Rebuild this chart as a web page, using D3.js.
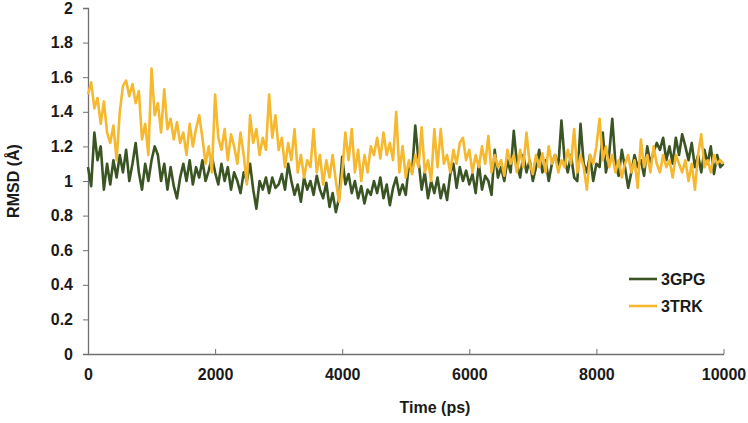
<!DOCTYPE html>
<html>
<head>
<meta charset="utf-8">
<script src="https://cdn.jsdelivr.net/npm/d3@7"></script>
<style>
  body { margin: 0; background: #fff; }
  svg { display: block; font-family: "Liberation Sans", Arial, sans-serif; }
</style>
</head>
<body>
<svg id="chart"></svg>
<script>
// sampling step of the trajectory (ps)
const timeStep = 50

// RMSD values, one every 50 ps from 0 to 10000
const rmsd3GPG = [
  1.08, 0.97, 1.28, 1.12, 1.20, 0.95, 1.10, 0.98, 1.12, 1.02,
  1.15, 1.05, 1.18, 1.00, 1.10, 1.22, 1.05, 0.95, 1.10, 1.00,
  1.12, 1.20, 1.15, 1.00, 1.10, 0.95, 1.08, 0.97, 0.90, 1.02,
  1.10, 1.00, 1.12, 0.98, 1.08, 1.02, 1.12, 1.00, 1.06, 1.14,
  1.05, 0.98, 1.10, 1.00, 1.08, 0.95, 1.05, 1.00, 0.93, 1.05,
  1.00, 1.10, 0.95, 0.84, 1.00, 0.95, 1.02, 0.93, 1.02, 0.96,
  0.98, 1.04, 0.95, 1.10, 1.00, 0.92, 0.98, 0.88, 1.02, 0.95,
  1.00, 0.92, 1.03, 0.95, 0.90, 0.99, 0.85, 0.93, 0.82, 0.90,
  1.14, 0.98, 1.04, 0.93, 1.00, 0.90, 0.97, 0.87, 0.95, 0.92,
  1.00, 0.93, 1.02, 0.90, 0.98, 0.86, 0.96, 1.02, 0.92, 0.98,
  0.92, 1.10, 1.05, 1.32, 1.12, 0.95, 1.05, 0.90, 1.00, 0.93,
  1.02, 0.90, 0.98, 0.89, 1.04, 1.10, 0.96, 1.08, 1.00, 1.06,
  0.98, 1.04, 0.93, 1.10, 0.95, 1.03, 1.00, 0.92, 1.18, 1.02,
  1.08, 1.00, 1.12, 1.05, 1.29, 1.10, 1.02, 1.15, 1.05, 1.12,
  1.00, 1.08, 1.18, 1.05, 1.12, 1.00, 1.10, 1.15, 1.08, 1.35,
  1.12, 1.05, 1.15, 1.02, 1.00, 1.33, 1.10, 1.05, 1.15, 1.00,
  1.10, 1.08, 1.28, 1.05, 1.15, 1.36, 1.10, 1.03, 1.18, 1.08,
  0.96, 1.05, 1.15, 1.08, 1.12, 1.03, 1.20, 1.10, 1.17, 1.22,
  1.18, 1.25, 1.12, 1.20, 1.10, 1.25, 1.15, 1.27, 1.20, 1.12,
  1.22, 1.08, 1.15, 1.05, 1.18, 1.10, 1.20, 1.04, 1.15, 1.08, 1.10
]

const rmsd3TRK = [
  1.50, 1.57, 1.42, 1.48, 1.33, 1.46, 1.28, 1.22, 1.32, 1.12,
  1.40, 1.55, 1.58, 1.49, 1.56, 1.45, 1.52, 1.24, 1.33, 1.15,
  1.65, 1.38, 1.45, 1.28, 1.53, 1.30, 1.36, 1.24, 1.34, 1.22,
  1.28, 1.15, 1.33, 1.20, 1.30, 1.38, 1.25, 1.10, 1.20, 1.05,
  1.50, 1.25, 1.18, 1.30, 1.12, 1.27, 1.20, 1.10, 1.28, 1.15,
  0.98, 1.38, 1.22, 1.30, 1.15, 1.25, 1.18, 1.50, 1.25, 1.38,
  1.18, 1.25, 1.08, 1.22, 1.12, 1.30, 1.05, 1.15, 1.02, 1.12,
  1.08, 1.30, 1.05, 1.15, 0.98, 1.12, 1.02, 1.15, 1.00, 0.88,
  1.05, 1.28, 1.12, 1.30, 1.05, 1.18, 1.00, 1.15, 1.05, 1.20,
  1.15, 1.25, 1.13, 1.28, 1.15, 1.22, 1.12, 1.40, 1.05, 1.20,
  1.02, 1.12, 1.04, 1.15, 1.08, 1.31, 1.05, 1.12, 1.00, 1.30,
  1.08, 1.30, 1.10, 1.15, 1.05, 1.18, 1.10, 1.22, 1.25, 1.12,
  1.18, 1.05, 1.15, 1.08, 1.20, 1.10, 1.26, 1.05, 1.15, 1.08,
  1.12, 1.03, 1.18, 1.10, 1.15, 1.05, 1.18, 1.08, 1.28, 1.10,
  1.04, 1.15, 1.08, 1.16, 1.05, 1.20, 1.10, 1.15, 1.05, 1.12,
  1.08, 1.18, 1.10, 1.30, 1.05, 1.15, 1.08, 0.95, 1.15, 1.10,
  1.20, 1.36, 1.12, 1.20, 1.08, 1.15, 1.05, 1.12, 1.02, 1.10,
  1.15, 1.05, 1.12, 0.96, 1.24, 1.08, 1.15, 1.05, 1.20, 1.10,
  1.05, 1.15, 1.08, 1.12, 1.02, 1.15, 1.10, 1.05, 1.12, 1.00,
  1.10, 0.95, 1.15, 1.27, 1.08, 1.12, 1.05, 1.15, 1.10, 1.12, 1.10
]

const seriesNames = ['3GPG', '3TRK']
const seriesColours = ['#3a5423', '#f5b82e']
const xTicks = [0, 2000, 4000, 6000, 8000, 10000]
const yTicks = [0, 0.2, 0.4, 0.6, 0.8, 1, 1.2, 1.4, 1.6, 1.8, 2]

const width = 748
const height = 423
const margin = { top: 8, right: 24.5, bottom: 69, left: 88 }
const axisColour = '#707070'
const textColour = '#1a1a1a'
const fontSize = '16px'

const svg = d3.select('#chart')
  .attr('width', width)
  .attr('height', height)

const xScale = d3.scaleLinear()
  .domain([0, 10000])
  .range([margin.left, width - margin.right])

const yScale = d3.scaleLinear()
  .domain([0, 2])
  .range([height - margin.bottom, margin.top])

/// Axes ///
const yAxis = g => g
  .attr('transform', `translate(${margin.left}, 0)`)
  .call(d3.axisLeft(yScale)
    .tickValues(yTicks)
    .tickSize(5)
    .tickPadding(10)
    .tickFormat(d => d3.format('~g')(d))
  )
  .call(g => g.selectAll('.tick line').attr('stroke', axisColour))
  .call(g => g.select('.domain').attr('stroke', axisColour).attr('stroke-width', 1.3))
  .call(g => g.selectAll('text')
    .attr('font-size', fontSize)
    .attr('font-weight', 'bold')
    .attr('fill', textColour)
    .attr('font-family', '"Liberation Sans", Arial, sans-serif')
  )

const xAxis = g => g
  .attr('transform', `translate(0, ${height - margin.bottom})`)
  .call(d3.axisBottom(xScale)
    .tickValues(xTicks)
    .tickSize(-5)
    .tickSizeOuter(0)
    .tickPadding(15)
    .tickFormat(d => d3.format('d')(d))
  )
  .call(g => g.selectAll('.tick line').attr('stroke', axisColour))
  .call(g => g.select('.tick line').remove())
  .call(g => g.select('.domain').attr('stroke', axisColour).attr('stroke-width', 1.3))
  .call(g => g.selectAll('text')
    .attr('font-size', fontSize)
    .attr('font-weight', 'bold')
    .attr('fill', textColour)
    .attr('font-family', '"Liberation Sans", Arial, sans-serif')
  )

svg.append('g').call(xAxis)
svg.append('g').call(yAxis)

/// Axis titles ///
svg.append('text')
  .attr('x', 435)
  .attr('y', 413)
  .attr('text-anchor', 'middle')
  .attr('font-size', fontSize)
  .attr('font-weight', 'bold')
  .attr('fill', textColour)
  .text('Time (ps)')

svg.append('text')
  .attr('transform', `translate(19, ${yScale(1)}) rotate(-90)`)
  .attr('text-anchor', 'middle')
  .attr('font-size', fontSize)
  .attr('font-weight', 'bold')
  .attr('fill', textColour)
  .text('RMSD (Å)')

/// Lines ///
const line = d3.line()
  .x((d, i) => xScale(i * timeStep))
  .y(d => yScale(d))

const allSeries = [rmsd3GPG, rmsd3TRK]

svg.append('g')
  .selectAll('path')
  .data(allSeries)
  .join('path')
    .attr('d', d => line(d))
    .attr('fill', 'none')
    .attr('stroke', (d, i) => seriesColours[i])
    .attr('stroke-width', 2.6)
    .attr('stroke-linejoin', 'round')

/// Legend ///
const legend = svg.append('g')
  .attr('transform', 'translate(629, 279)')

const legendItems = legend.selectAll('g')
  .data(seriesNames)
  .join('g')
  .attr('transform', (d, i) => `translate(0, ${i * 27})`)

legendItems.append('line')
  .attr('x1', 0)
  .attr('x2', 28)
  .attr('stroke', (d, i) => seriesColours[i])
  .attr('stroke-width', 2.6)

legendItems.append('text')
  .attr('x', 32)
  .attr('dy', '0.35em')
  .attr('font-size', fontSize)
  .attr('font-weight', 'bold')
  .attr('fill', textColour)
  .text(d => d)
</script>
</body>
</html>
